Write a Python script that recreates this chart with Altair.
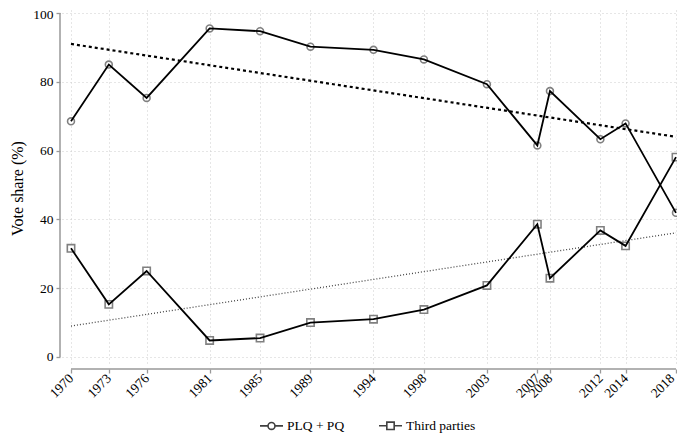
import altair as alt
import pandas as pd

years = [1970, 1973, 1976, 1981, 1985, 1989, 1994, 1998, 2003, 2007, 2008, 2012, 2014, 2018]
plq_pq = [68.5, 85.0, 75.3, 95.5, 94.7, 90.2, 89.3, 86.5, 79.3, 61.5, 77.3, 63.3, 67.9, 41.9]
third = [31.6, 15.3, 25.0, 4.8, 5.5, 10.0, 11.0, 13.8, 20.8, 38.6, 22.9, 36.8, 32.3, 58.1]
trend_years = [1970, 2018]
trend_plq = [91.0, 64.0]
trend_third = [9.0, 36.1]
y_ticks = [0, 20, 40, 60, 80, 100]
series_names = ["PLQ + PQ", "Third parties"]

FONT = "Liberation Serif"

rows = []
for y, a, b in zip(years, plq_pq, third):
    rows.append({"year": y, "value": a, "series": series_names[0]})
    rows.append({"year": y, "value": b, "series": series_names[1]})
df = pd.DataFrame(rows)

tr = pd.DataFrame({"year": trend_years, "plq": trend_plq, "third": trend_third})

x_scale = alt.Scale(domain=[1969.286, 2018.08], nice=False, zero=False)
y_scale = alt.Scale(domain=[-2.62, 100.87], nice=False, zero=False)

x_axis = alt.Axis(values=years, format="d", labelAngle=-45, labelAlign="right",
                  labelBaseline="middle", labelPadding=3, labelFont=FONT,
                  labelFontSize=13.5, labelColor="black", tickColor="#999999",
                  tickSize=4, tickWidth=1.3, domain=False, offset=3, grid=True,
                  gridColor="#cccccc", gridDash=[1, 3], gridWidth=1, title=None,
                  labelOverlap=False, labelBound=False,
                  labelOffset={"condition": {"test": f"datum.value == {years[-1]}",
                                             "value": -4}, "value": 0})
y_axis = alt.Axis(values=y_ticks, labelFont=FONT, labelFontSize=13.5,
                  labelColor="black", tickColor="#999999", tickSize=4,
                  tickWidth=1.3, labelPadding=3, domain=False, offset=2, grid=True,
                  gridColor="#cccccc", gridDash=[1, 3], gridWidth=1,
                  title="Vote share (%)", titleFont=FONT, titleFontSize=16,
                  titleFontWeight="normal", titleColor="black", titlePadding=7,
                  labelBound=False,
                  labelOffset={"condition": {"test": f"datum.value == {y_ticks[-1]}",
                                             "value": 2}, "value": 0})

X = alt.X("year:Q", scale=x_scale, axis=x_axis)
Y = alt.Y("value:Q", scale=y_scale, axis=y_axis)

circle_path = "M-0.3,0A0.3,0.3 0 1,0 0.3,0A0.3,0.3 0 1,0 -0.3,0Z"
square_path = "M-0.32,-0.32H0.32V0.32H-0.32Z"
leg_circle = "M-1,0L-0.3,0M0.3,0L1,0M-0.3,0A0.3,0.3 0 1,0 0.3,0A0.3,0.3 0 1,0 -0.3,0Z"
leg_square = "M-1,0L-0.32,0M0.32,0L1,0M-0.32,-0.32L0.32,-0.32L0.32,0.32L-0.32,0.32Z"
marker_paths = {series_names[0]: circle_path, series_names[1]: square_path}

point_layers = []
for name in series_names:
    point_layers.append(
        alt.Chart(df).transform_filter(alt.datum.series == name).mark_point(
            shape=marker_paths[name], filled=False, fill="white", fillOpacity=1,
            stroke="#808080", strokeWidth=1.6, size=529, opacity=1
        ).encode(x=X, y=Y)
    )

lines = alt.Chart(df).mark_line(strokeWidth=1.8, color="black").encode(
    x=X, y=Y, detail="series:N")

leg_common = dict(orient="none", legendX=197, legendY=403,
                  direction="horizontal", title=None,
                  symbolSize=529, symbolStrokeColor="#404040",
                  symbolFillColor="white", symbolStrokeWidth=1.6,
                  symbolOpacity=1,
                  labelFont=FONT, labelFontSize=13.5,
                  labelColor="black", labelOffset=3,
                  columnPadding=30, padding=0)

# legend-carrying layer: its own marks are fully transparent
legend_layer = alt.Chart(df).mark_point(
    filled=False, size=529, strokeWidth=1.6, opacity=0
).encode(
    x=X, y=Y,
    color=alt.Color("series:N",
                    scale=alt.Scale(domain=series_names, range=["#404040", "#404040"]),
                    legend=alt.Legend(**leg_common)),
    shape=alt.Shape("series:N",
                    scale=alt.Scale(domain=series_names, range=[leg_circle, leg_square]),
                    legend=alt.Legend(**leg_common)),
)

trend1 = alt.Chart(tr).mark_line(color="black", strokeWidth=2.2,
                                 strokeDash=[3, 3]).encode(
    x=alt.X("year:Q", scale=x_scale, axis=x_axis),
    y=alt.Y("plq:Q", scale=y_scale, axis=y_axis))
trend2 = alt.Chart(tr).mark_line(color="#444444", strokeWidth=1.3,
                                 strokeDash=[1, 2]).encode(
    x=alt.X("year:Q", scale=x_scale, axis=x_axis),
    y=alt.Y("third:Q", scale=y_scale, axis=y_axis))

one = pd.DataFrame({"a": [0]})
yaxis_line = alt.Chart(one).mark_rule(color="#999999", strokeWidth=1.5).encode(
    x=alt.value(-2), y=alt.datum(y_ticks[0]), y2=alt.datum(y_ticks[-1]))
xaxis_line = alt.Chart(one).mark_rule(color="#999999", strokeWidth=1.5).encode(
    y=alt.value(359), x=alt.datum(years[0]), x2=alt.datum(years[-1]))

chart = alt.layer(
    trend2, trend1, *point_layers, lines, legend_layer, yaxis_line, xaxis_line
).properties(
    width=615, height=356,
    autosize=alt.AutoSizeParams(type="none"),
    padding={"left": 54, "top": 2, "right": 0, "bottom": 67},
    background="white",
).configure_view(stroke=None)

chart.save("out.html", embed_options={"renderer": "svg", "actions": False})
